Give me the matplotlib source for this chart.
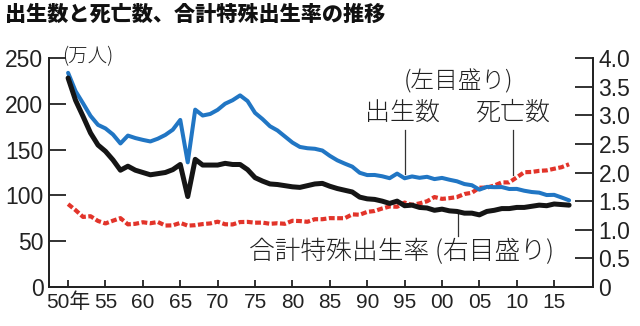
import matplotlib
matplotlib.use("Agg")
import matplotlib.pyplot as plt

plt.rcParams['font.family'] = ['Liberation Sans', 'Noto Sans CJK JP', 'DejaVu Sans']

years = list(range(1950, 2018))

# 出生数 (万人)
births = [233.8, 213.8, 200.5, 186.8, 177.0, 173.1, 166.5, 156.7, 165.3, 162.6,
          160.6, 158.9, 161.9, 166.0, 171.7, 182.4, 136.1, 193.6, 187.2, 188.9,
          193.4, 200.1, 203.9, 209.2, 203.0, 190.1, 183.3, 175.5, 170.9, 164.3,
          157.7, 152.9, 151.5, 150.9, 149.0, 143.2, 138.3, 134.7, 131.4, 124.7,
          122.2, 122.3, 120.9, 118.8, 123.8, 118.7, 120.7, 119.2, 120.3, 117.8,
          119.1, 117.1, 115.4, 112.4, 111.1, 106.3, 109.3, 109.0, 109.1, 107.0,
          107.1, 105.1, 103.7, 103.0, 100.4, 100.6, 97.7, 94.6]

# 死亡数 (万人)
deaths = [90.5, 83.9, 76.5, 77.3, 72.1, 69.4, 72.4, 75.2, 68.4, 69.0,
          70.7, 69.6, 71.0, 67.1, 67.3, 70.0, 67.0, 67.5, 68.7, 69.4,
          71.3, 68.5, 68.3, 70.9, 71.1, 70.2, 70.3, 69.0, 69.6, 69.0,
          72.3, 72.0, 71.2, 74.0, 74.0, 75.2, 75.1, 75.1, 79.3, 78.9,
          82.0, 83.0, 85.7, 87.9, 87.6, 92.2, 89.6, 91.3, 93.6, 98.2,
          96.2, 97.0, 98.2, 101.5, 102.9, 108.4, 108.5, 110.8, 114.2, 114.2,
          119.7, 125.3, 125.6, 126.8, 127.3, 129.1, 130.8, 134.0]

# 合計特殊出生率
tfr = [3.65, 3.26, 2.98, 2.69, 2.48, 2.37, 2.22, 2.04, 2.11, 2.04,
       2.00, 1.96, 1.98, 2.00, 2.05, 2.14, 1.58, 2.23, 2.13, 2.13,
       2.13, 2.16, 2.14, 2.14, 2.05, 1.91, 1.85, 1.80, 1.79, 1.77,
       1.75, 1.74, 1.77, 1.80, 1.81, 1.76, 1.72, 1.69, 1.66, 1.57,
       1.54, 1.53, 1.50, 1.46, 1.50, 1.42, 1.43, 1.39, 1.38, 1.34,
       1.36, 1.33, 1.32, 1.29, 1.29, 1.26, 1.32, 1.34, 1.37, 1.37,
       1.39, 1.39, 1.41, 1.43, 1.42, 1.45, 1.44, 1.43]

xticks = list(range(1950, 2016, 5))
xtick_labels = ['50年', '55', '60', '65', '70', '75', '80', '85', '90', '95',
                '00', '05', '10', '15']
left_ticks = [0, 50, 100, 150, 200, 250]
right_ticks = [0, 0.5, 1.0, 1.5, 2.0, 2.5, 3.0, 3.5, 4.0]
right_labels = ['0', '0.5', '1.0', '1.5', '2.0', '2.5', '3.0', '3.5', '4.0']

BLUE = '#2176c4'
RED = '#e2342a'
BLACK = '#151515'
JP = ['Noto Sans CJK JP', 'DejaVu Sans']

fig = plt.figure(figsize=(6.4, 3.26), dpi=100)
ax = fig.add_axes([0.0766, 0.1196, 0.85, 0.7025])
ax2 = ax.twinx()

ax.plot(years, deaths, color=RED, lw=3.0, linestyle=(0, (1.4, 0.6)), zorder=2)
ax.plot(years, births, color=BLUE, lw=2.9, solid_capstyle='round', zorder=3)
ax2.plot(years, tfr, color=BLACK, lw=3.6, solid_capstyle='round', zorder=4)

ax.set_xlim(1947.45, 2020.2)
ax.set_ylim(0, 250)
ax2.set_ylim(0, 4.0)

ax.set_xticks(xticks)
ax.set_xticklabels(xtick_labels)
ax.set_yticks(left_ticks)
ax2.set_yticks(right_ticks)
ax2.set_yticklabels(right_labels)

for a in (ax, ax2):
    a.spines['top'].set_visible(False)
    for s in a.spines.values():
        s.set_linewidth(1.3)
        s.set_color('#222222')

ax.tick_params(axis='y', direction='in', length=12, width=1.3, labelsize=16.5, pad=4, colors='#222222')
ax.tick_params(axis='x', direction='in', length=5, width=1.3, labelsize=15, pad=4, colors='#222222')
ax2.tick_params(axis='y', direction='in', length=13, width=1.3, labelsize=16.5, pad=4, colors='#222222')

fig.text(0.008, 0.955, '出生数と死亡数、合計特殊出生率の推移', family=JP, fontsize=15.2,
         fontweight='black', ha='left', va='center', color='#111111')
fig.text(0.097, 0.826, '(万人)', family=JP, fontsize=14, fontweight='light',
         ha='left', va='center', color='#222222')

# annotations
ax.text(2002.2, 224, '(左目盛り)', family=JP, fontsize=17, fontweight='light',
        ha='center', va='center', color='#222222')
ax.text(1994.7, 190, '出生数', family=JP, fontsize=18, fontweight='light',
        ha='center', va='center', color='#222222')
ax.text(2009.4, 190, '死亡数', family=JP, fontsize=18, fontweight='light',
        ha='center', va='center', color='#222222')
ax.text(1994.6, 38, '合計特殊出生率 (右目盛り)', family=JP, fontsize=18.5, fontweight='light',
        ha='center', va='center', color='#222222')

i95 = years.index(1995)
ax.plot([1995, 1995], [births[i95] + 5, 171], color='#333333', lw=0.9, zorder=5)
i09 = years.index(2009)
ax.plot([2009.5, 2009.5], [deaths[i09] + 8, 171], color='#333333', lw=0.9, zorder=5)
i02 = years.index(2002)
ax.plot([2002.2, 2002.2], [tfr[i02] * 62.5 - 2, 56], color='#333333', lw=0.9, zorder=5)

fig.savefig('out.png', dpi=100)
